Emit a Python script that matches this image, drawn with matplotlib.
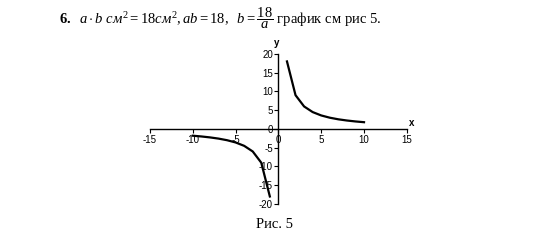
import matplotlib.pyplot as plt

plt.rcParams['mathtext.fontset'] = 'custom'
plt.rcParams['mathtext.rm'] = 'Liberation Serif'
plt.rcParams['mathtext.it'] = 'Liberation Serif:italic'
plt.rcParams['mathtext.bf'] = 'Liberation Serif:bold'
plt.rcParams['axes.unicode_minus'] = False

# b = 18 / a
a_pos = [1, 2, 3, 4, 5, 6, 7, 8, 9, 10]
b_pos = [18, 9, 6, 4.5, 3.6, 3, 2.57, 2.25, 2, 1.8]
a_neg = [-10, -9, -8, -7, -6, -5, -4, -3, -2, -1]
b_neg = [-1.8, -2, -2.25, -2.57, -3, -3.6, -4.5, -6, -9, -18]

x_ticks = [-15, -10, -5, 0, 5, 10, 15]
y_ticks = [-20, -15, -10, -5, 0, 5, 10, 15, 20]

fig = plt.figure(figsize=(5.5, 2.44), dpi=100)
ax = fig.add_axes([0.2727, 0.164, 0.467, 0.615])

ax.plot(a_pos, b_pos, color='black', lw=1.6)
ax.plot(a_neg, b_neg, color='black', lw=1.6)

ax.set_xlim(-15, 15)
ax.set_ylim(-20, 20)
ax.spines['left'].set_position('zero')
ax.spines['bottom'].set_position('zero')
ax.spines['right'].set_visible(False)
ax.spines['top'].set_visible(False)
for s in ('left', 'bottom'):
    ax.spines[s].set_linewidth(1.0)
ax.set_xticks(x_ticks)
ax.set_yticks(y_ticks)
ax.tick_params(direction='out', length=3, width=0.8, labelsize=7, pad=1)
for lab in ax.get_xticklabels() + ax.get_yticklabels():
    lab.set_family('Liberation Sans')

ax.text(15.3, 0.3, 'x', fontsize=7, fontweight='bold', family='Liberation Sans', ha='left', va='bottom')
ax.text(-0.2, 21.5, 'y', fontsize=7, fontweight='bold', family='Liberation Sans', ha='center', va='bottom')

fig.text(0.108, 0.925,
         r'$\mathbf{6.}$  $a\cdot b\ см^2 = 18см^2, ab = 18,\ \ b = \dfrac{18}{a}$ график см рис 5.',
         fontsize=10.5, family='Liberation Serif', va='center', ha='left')
fig.text(0.5, 0.08, 'Рис. 5', fontsize=10.5, family='Liberation Serif', ha='center', va='center')

fig.savefig('out.png', dpi=100)
